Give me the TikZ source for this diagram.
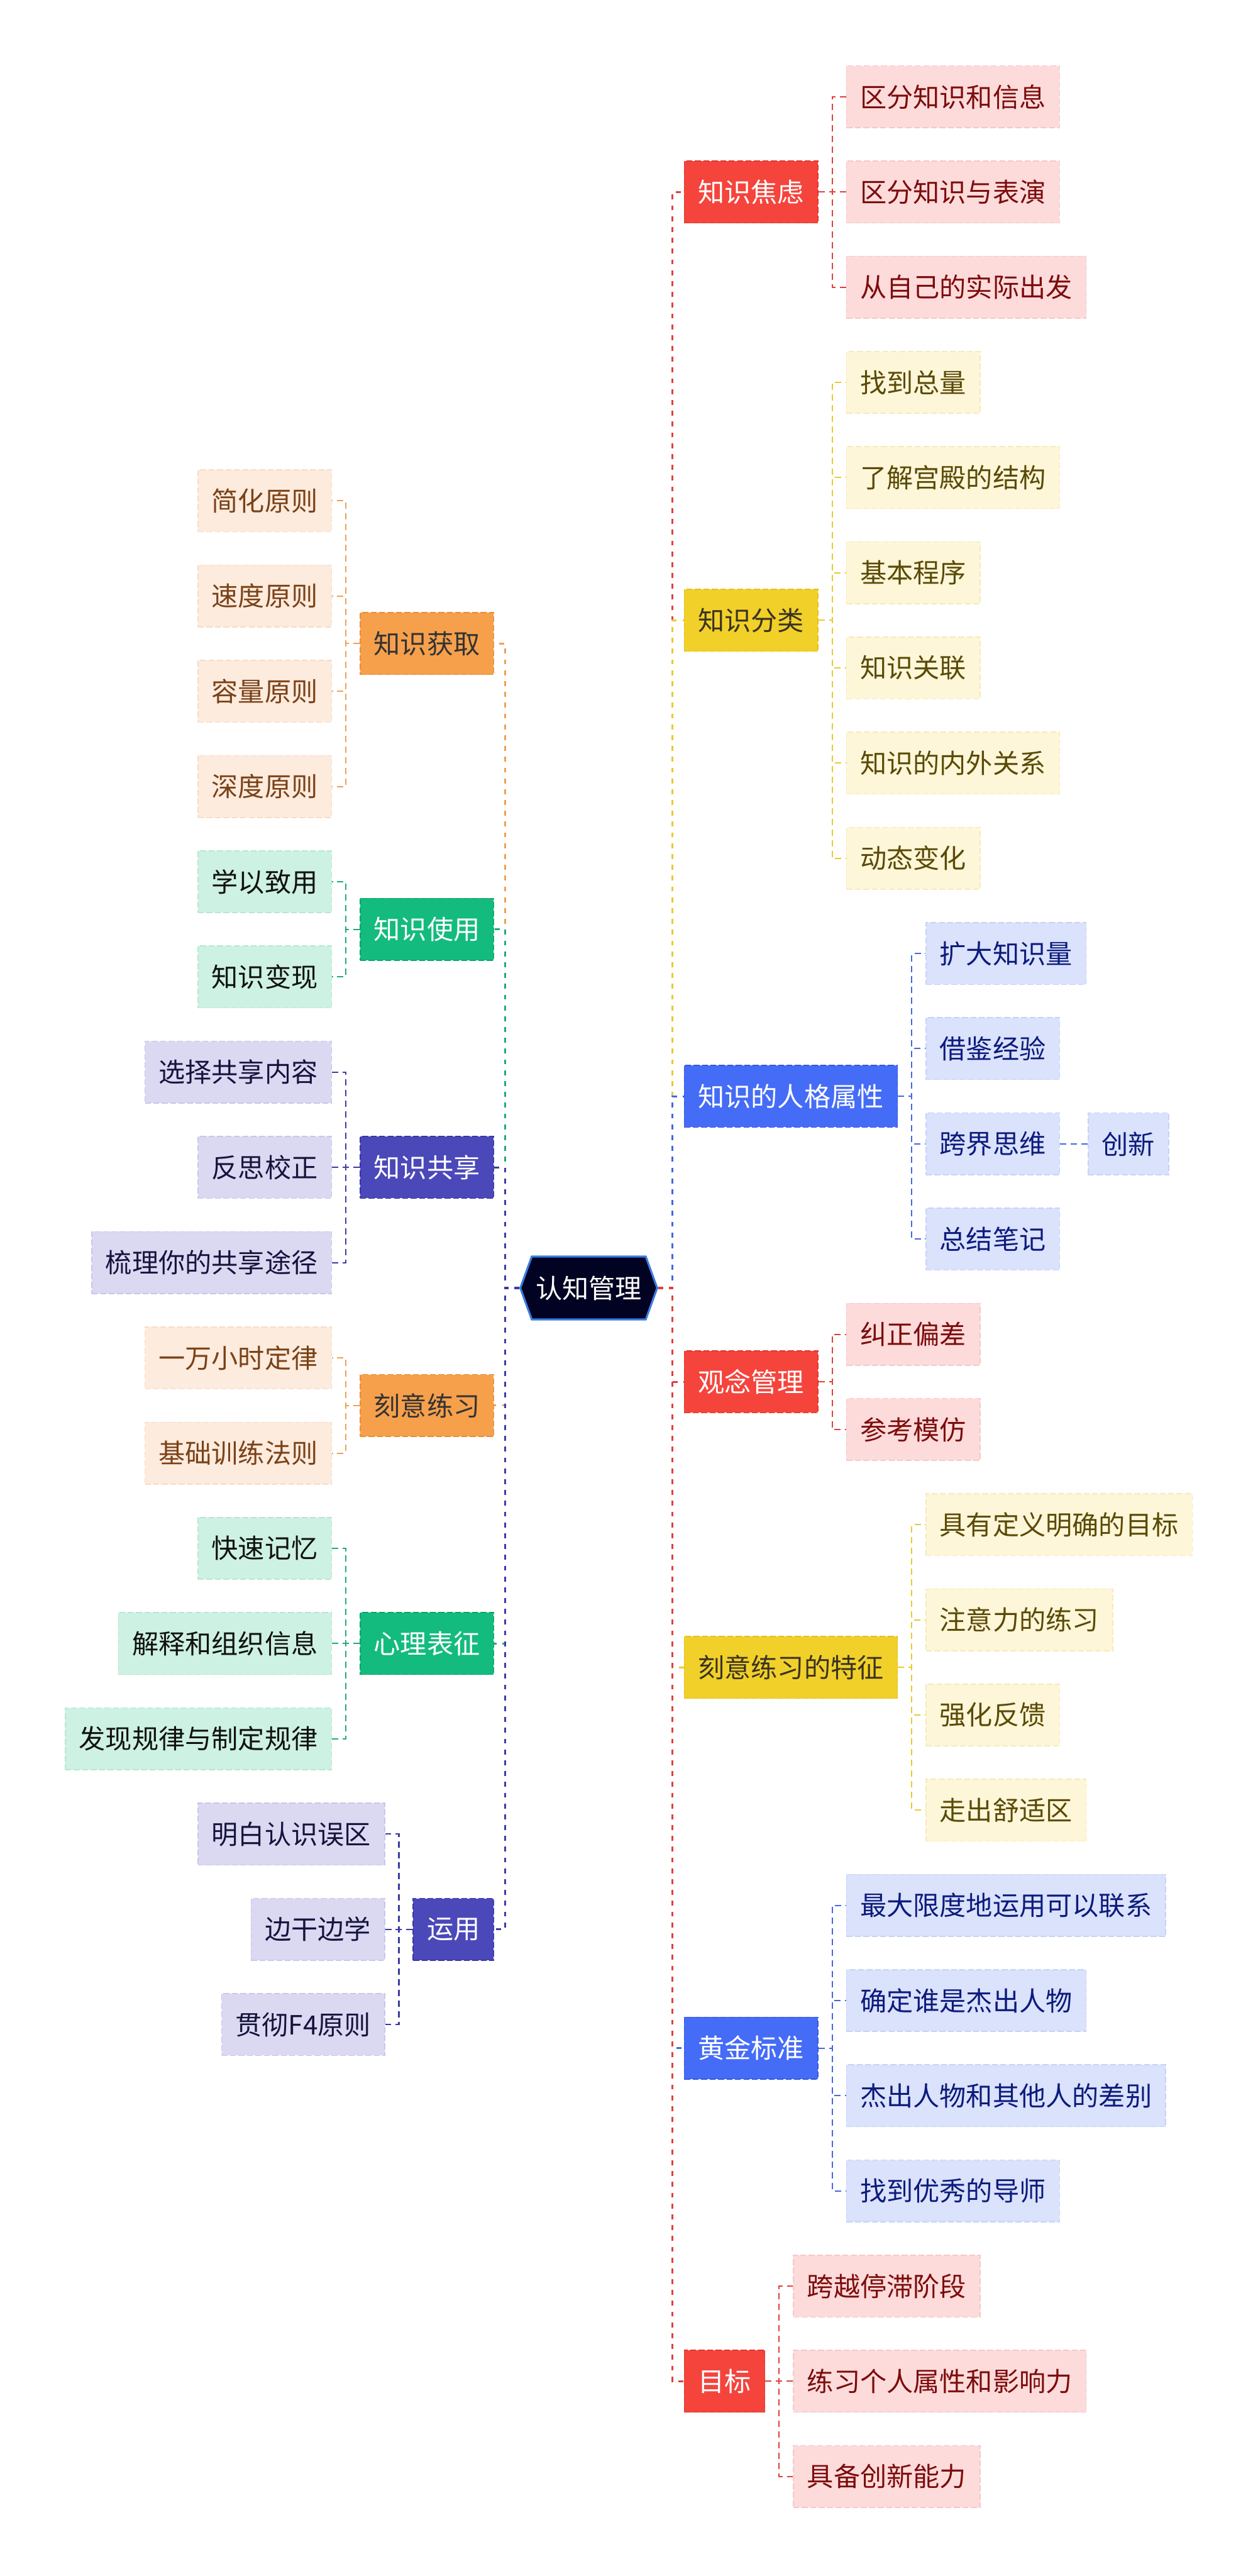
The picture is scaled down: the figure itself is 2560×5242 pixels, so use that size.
\documentclass[tikz,border=0pt]{standalone}
\usepackage{fontspec}
\setmainfont{Noto Sans CJK SC}
\usetikzlibrary{shapes.symbols,backgrounds}
\pgfdeclarelayer{paper}
\pgfsetlayers{paper,background,main}
\definecolor{redB}{HTML}{F5443C}\definecolor{redBd}{HTML}{E0382F}
\definecolor{redL}{HTML}{FDDBDB}\definecolor{redLd}{HTML}{F6C8C8}\definecolor{redT}{HTML}{7D0C0C}
\definecolor{yelB}{HTML}{F1D02A}\definecolor{yelBd}{HTML}{E3C11A}\definecolor{yelBt}{HTML}{3A3320}
\definecolor{yelL}{HTML}{FEF6D8}\definecolor{yelLd}{HTML}{F5EABB}\definecolor{yelT}{HTML}{5A4A06}
\definecolor{bluB}{HTML}{456CF7}\definecolor{bluBd}{HTML}{3858E0}
\definecolor{bluL}{HTML}{DAE2FC}\definecolor{bluLd}{HTML}{C7D2F7}\definecolor{bluT}{HTML}{0D1B7C}
\definecolor{oraB}{HTML}{F6A04C}\definecolor{oraBd}{HTML}{E58F3A}\definecolor{oraBt}{HTML}{333333}
\definecolor{oraL}{HTML}{FDEBDD}\definecolor{oraLd}{HTML}{F7DCC6}\definecolor{oraT}{HTML}{7A4218}
\definecolor{greB}{HTML}{14BB7E}\definecolor{greBd}{HTML}{0FA46C}
\definecolor{greL}{HTML}{CDF1E2}\definecolor{greLd}{HTML}{B9E6D3}\definecolor{greT}{HTML}{111111}
\definecolor{indB}{HTML}{4B48B9}\definecolor{indBd}{HTML}{3B37A0}
\definecolor{indL}{HTML}{DBD9F2}\definecolor{indLd}{HTML}{C9C6EA}\definecolor{indT}{HTML}{16133D}
\definecolor{cFill}{HTML}{020222}\definecolor{cLine}{HTML}{3A7BE0}
\definecolor{redC}{HTML}{E0403A}\definecolor{yelC}{HTML}{EBC92E}\definecolor{bluC}{HTML}{4466E0}
\definecolor{oraC}{HTML}{EFA052}\definecolor{greC}{HTML}{21A97A}\definecolor{indC}{HTML}{3D3AA6}
\begin{document}
\begin{tikzpicture}[x=0.25pt,y=-0.25pt,
  font=\fontsize{13.5}{16}\selectfont,
  box/.style={rectangle, inner xsep=7pt, inner ysep=0pt, minimum height=31.5pt,
    dash pattern=on 3pt off 1.3pt, line width=0.5pt},
  rb/.style={box, fill=redB, draw=redBd, text=white},
  rl/.style={box, fill=redL, draw=redLd, text=redT},
  yb/.style={box, fill=yelB, draw=yelBd, text=yelBt},
  yl/.style={box, fill=yelL, draw=yelLd, text=yelT},
  bb/.style={box, fill=bluB, draw=bluBd, text=white},
  bl/.style={box, fill=bluL, draw=bluLd, text=bluT},
  ob/.style={box, fill=oraB, draw=oraBd, text=oraBt},
  ol/.style={box, fill=oraL, draw=oraLd, text=oraT},
  gb/.style={box, fill=greB, draw=greBd, text=white},
  gl/.style={box, fill=greL, draw=greLd, text=greT},
  ib/.style={box, fill=indB, draw=indBd, text=white},
  il/.style={box, fill=indL, draw=indLd, text=indT},
  mainc/.style={dash pattern=on 2.5pt off 3pt, line width=1pt},
  subc/.style={dash pattern=on 3.2pt off 2.2pt, line width=0.65pt}]
\begin{pgfonlayer}{paper}
\fill[white] (0,0) rectangle (2560,5242);
\end{pgfonlayer}
\useasboundingbox (0,0) rectangle (2560,5242);

% center
\node[signal, signal to=east and west, signal pointer angle=140, fill=cFill, draw=cLine,
  line width=1pt, text=white, inner xsep=2pt, inner ysep=0pt,
  minimum width=67.75pt, minimum height=32pt] (c) at (1198.5,2621) {认知管理};

% ---------- right side ----------
\node[rb, anchor=west] (r1) at (1392,390.7) {知识焦虑};
\node[rl, anchor=west] (r1a) at (1722,197) {区分知识和信息};
\node[rl, anchor=west] (r1b) at (1722,390.7) {区分知识与表演};
\node[rl, anchor=west] (r1c) at (1722,584.4) {从自己的实际出发};

\node[yb, anchor=west] (r2) at (1392,1262.35) {知识分类};
\node[yl, anchor=west] (r2a) at (1722,778.1) {找到总量};
\node[yl, anchor=west] (r2b) at (1722,971.8) {了解宫殿的结构};
\node[yl, anchor=west] (r2c) at (1722,1165.5) {基本程序};
\node[yl, anchor=west] (r2d) at (1722,1359.2) {知识关联};
\node[yl, anchor=west] (r2e) at (1722,1552.9) {知识的内外关系};
\node[yl, anchor=west] (r2f) at (1722,1746.6) {动态变化};

\node[bb, anchor=west] (r3) at (1392,2230.85) {知识的人格属性};
\node[bl, anchor=west] (r3a) at (1884,1940.3) {扩大知识量};
\node[bl, anchor=west] (r3b) at (1884,2134.0) {借鉴经验};
\node[bl, anchor=west] (r3c) at (1884,2327.7) {跨界思维};
\node[bl, anchor=west] (r3c1) at (2214,2327.7) {创新};
\node[bl, anchor=west] (r3d) at (1884,2521.4) {总结笔记};

\node[rb, anchor=west] (r4) at (1392,2811.95) {观念管理};
\node[rl, anchor=west] (r4a) at (1722,2715.1) {纠正偏差};
\node[rl, anchor=west] (r4b) at (1722,2908.8) {参考模仿};

\node[yb, anchor=west] (r5) at (1392,3393.05) {刻意练习的特征};
\node[yl, anchor=west] (r5a) at (1884,3102.5) {具有定义明确的目标};
\node[yl, anchor=west] (r5b) at (1884,3296.2) {注意力的练习};
\node[yl, anchor=west] (r5c) at (1884,3489.9) {强化反馈};
\node[yl, anchor=west] (r5d) at (1884,3683.6) {走出舒适区};

\node[bb, anchor=west] (r6) at (1392,4167.85) {黄金标准};
\node[bl, anchor=west] (r6a) at (1722,3877.3) {最大限度地运用可以联系};
\node[bl, anchor=west] (r6b) at (1722,4071.0) {确定谁是杰出人物};
\node[bl, anchor=west] (r6c) at (1722,4264.7) {杰出人物和其他人的差别};
\node[bl, anchor=west] (r6d) at (1722,4458.4) {找到优秀的导师};

\node[rb, anchor=west] (r7) at (1392,4845.8) {目标};
\node[rl, anchor=west] (r7a) at (1614,4652.1) {跨越停滞阶段};
\node[rl, anchor=west] (r7b) at (1614,4845.8) {练习个人属性和影响力};
\node[rl, anchor=west] (r7c) at (1614,5039.5) {具备创新能力};

% ---------- left side ----------
\node[ob, anchor=east] (l1) at (1006,1309.7) {知识获取};
\node[ol, anchor=east] (l1a) at (676,1019) {简化原则};
\node[ol, anchor=east] (l1b) at (676,1212.8) {速度原则};
\node[ol, anchor=east] (l1c) at (676,1406.6) {容量原则};
\node[ol, anchor=east] (l1d) at (676,1600.4) {深度原则};

\node[gb, anchor=east] (l2) at (1006,1891.1) {知识使用};
\node[gl, anchor=east] (l2a) at (676,1794.2) {学以致用};
\node[gl, anchor=east] (l2b) at (676,1988.0) {知识变现};

\node[ib, anchor=east] (l3) at (1006,2375.6) {知识共享};
\node[il, anchor=east] (l3a) at (676,2181.8) {选择共享内容};
\node[il, anchor=east] (l3b) at (676,2375.6) {反思校正};
\node[il, anchor=east] (l3c) at (676,2569.4) {梳理你的共享途径};

\node[ob, anchor=east] (l4) at (1006,2860.1) {刻意练习};
\node[ol, anchor=east] (l4a) at (676,2763.2) {一万小时定律};
\node[ol, anchor=east] (l4b) at (676,2957.0) {基础训练法则};

\node[gb, anchor=east] (l5) at (1006,3344.6) {心理表征};
\node[gl, anchor=east] (l5a) at (676,3150.8) {快速记忆};
\node[gl, anchor=east] (l5b) at (676,3344.6) {解释和组织信息};
\node[gl, anchor=east] (l5c) at (676,3538.4) {发现规律与制定规律};

\node[ib, anchor=east] (l6) at (1006,3926.0) {运用};
\node[il, anchor=east] (l6a) at (784,3732.2) {明白认识误区};
\node[il, anchor=east] (l6b) at (784,3926.0) {边干边学};
\node[il, anchor=east] (l6c) at (784,4119.8) {贯彻F4原则};

% ---------- connectors ----------
\begin{scope}[on background layer]
\draw[mainc, redC] (c.east) -- ++(29,0) |- (r1.west);
\draw[mainc, yelC] (c.east) -- ++(29,0) |- (r2.west);
\draw[mainc, bluC] (c.east) -- ++(29,0) |- (r3.west);
\draw[mainc, redC] (c.east) -- ++(29,0) |- (r4.west);
\draw[mainc, yelC] (c.east) -- ++(29,0) |- (r5.west);
\draw[mainc, bluC] (c.east) -- ++(29,0) |- (r6.west);
\draw[mainc, redC] (c.east) -- ++(29,0) |- (r7.west);

\draw[mainc, oraC] (c.west) -- ++(-29,0) |- (l1.east);
\draw[mainc, greC] (c.west) -- ++(-29,0) |- (l2.east);
\draw[mainc, indC] (c.west) -- ++(-29,0) |- (l3.east);
\draw[mainc, oraC] (c.west) -- ++(-29,0) |- (l4.east);
\draw[mainc, greC] (c.west) -- ++(-29,0) |- (l5.east);
\draw[mainc, indC] (c.west) -- ++(-29,0) |- (l6.east);

\foreach \n in {r1a,r1b,r1c} \draw[subc, redC] (r1.east) -- ++(28,0) |- (\n.west);
\foreach \n in {r2a,r2b,r2c,r2d,r2e,r2f} \draw[subc, yelC] (r2.east) -- ++(28,0) |- (\n.west);
\foreach \n in {r3a,r3b,r3c,r3d} \draw[subc, bluC] (r3.east) -- ++(28,0) |- (\n.west);
\draw[subc, bluC] (r3c.east) -- (r3c1.west);
\foreach \n in {r4a,r4b} \draw[subc, redC] (r4.east) -- ++(28,0) |- (\n.west);
\foreach \n in {r5a,r5b,r5c,r5d} \draw[subc, yelC] (r5.east) -- ++(28,0) |- (\n.west);
\foreach \n in {r6a,r6b,r6c,r6d} \draw[subc, bluC] (r6.east) -- ++(28,0) |- (\n.west);
\foreach \n in {r7a,r7b,r7c} \draw[subc, redC] (r7.east) -- ++(28,0) |- (\n.west);

\foreach \n in {l1a,l1b,l1c,l1d} \draw[subc, oraC] (l1.west) -- ++(-28,0) |- (\n.east);
\foreach \n in {l2a,l2b} \draw[subc, greC] (l2.west) -- ++(-28,0) |- (\n.east);
\foreach \n in {l3a,l3b,l3c} \draw[subc, indC] (l3.west) -- ++(-28,0) |- (\n.east);
\foreach \n in {l4a,l4b} \draw[subc, oraC] (l4.west) -- ++(-28,0) |- (\n.east);
\foreach \n in {l5a,l5b,l5c} \draw[subc, greC] (l5.west) -- ++(-28,0) |- (\n.east);
\foreach \n in {l6a,l6b,l6c} \draw[subc, indC] (l6.west) -- ++(-28,0) |- (\n.east);
\end{scope}
\end{tikzpicture}
\end{document}
